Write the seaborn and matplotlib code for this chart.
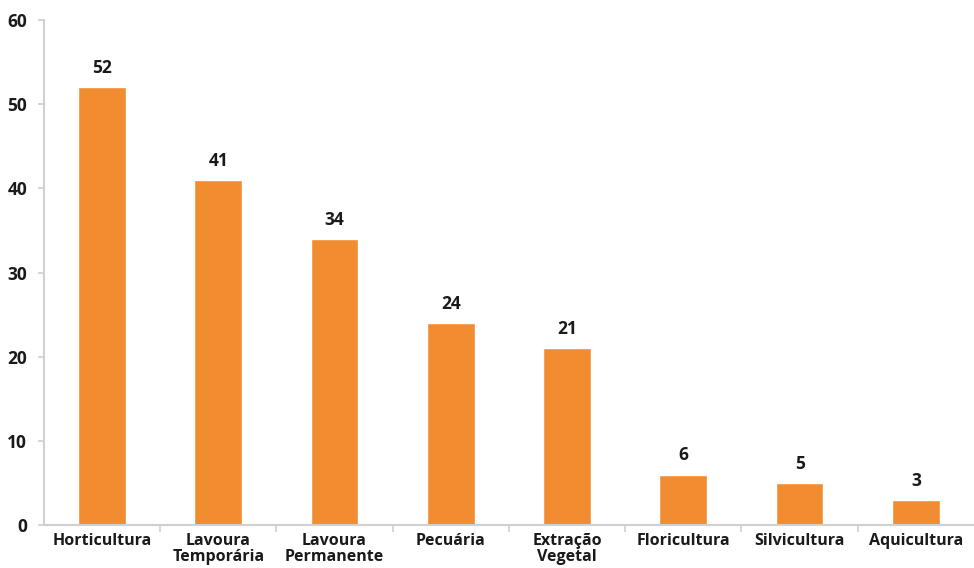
import matplotlib
matplotlib.use("Agg")
import matplotlib.pyplot as plt
import seaborn as sns
import pandas as pd

categories = ["Horticultura", "Lavoura\nTemporária", "Lavoura\nPermanente", "Pecuária",
              "Extração\nVegetal", "Floricultura", "Silvicultura", "Aquicultura"]
values = [52, 41, 34, 24, 21, 6, 5, 3]
yticks = [0, 10, 20, 30, 40, 50, 60]

sns.set_theme(style="white")
plt.rcParams['font.family'] = ['Open Sans', 'DejaVu Sans']

df = pd.DataFrame({"cat": categories, "val": values})
fig = plt.figure(figsize=(9.74, 5.68), dpi=100)
ax = fig.add_axes([0.045, 0.0757, 0.955, 0.8888])
sns.barplot(data=df, x="cat", y="val", color="#F28C30", saturation=1, width=0.41, ax=ax)

for i, v in enumerate(values):
    ax.text(i, v + 1.2, str(v), ha="center", va="bottom", fontsize=12.5, fontweight="bold", color="#1a1a1a")

ax.set_ylim(0, 60)
ax.set_xlim(-0.5, 7.5)
ax.set_yticks(yticks)
ax.set_yticklabels([str(t) for t in yticks], fontsize=12.5, fontweight="bold", color="#1a1a1a")
ax.set_xticks(range(len(categories)))
ax.set_xticklabels(categories, fontsize=11.5, fontweight="bold", color="#1a1a1a", linespacing=1.0)
ax.set_xlabel("")
ax.set_ylabel("")
for s in ["top", "right"]:
    ax.spines[s].set_visible(False)
for s in ["left", "bottom"]:
    ax.spines[s].set_color("#d0d0d0")
    ax.spines[s].set_linewidth(1.5)
ax.tick_params(axis="x", length=0, pad=6)
ax.tick_params(axis="y", length=4, color="#d0d0d0", pad=8, left=True)
ax.set_xticks([i + 0.5 for i in range(len(categories) - 1)], minor=True)
ax.tick_params(axis="x", which="minor", length=5, color="#d0d0d0", width=1.2, bottom=True)
fig.savefig("out.png", dpi=100)
